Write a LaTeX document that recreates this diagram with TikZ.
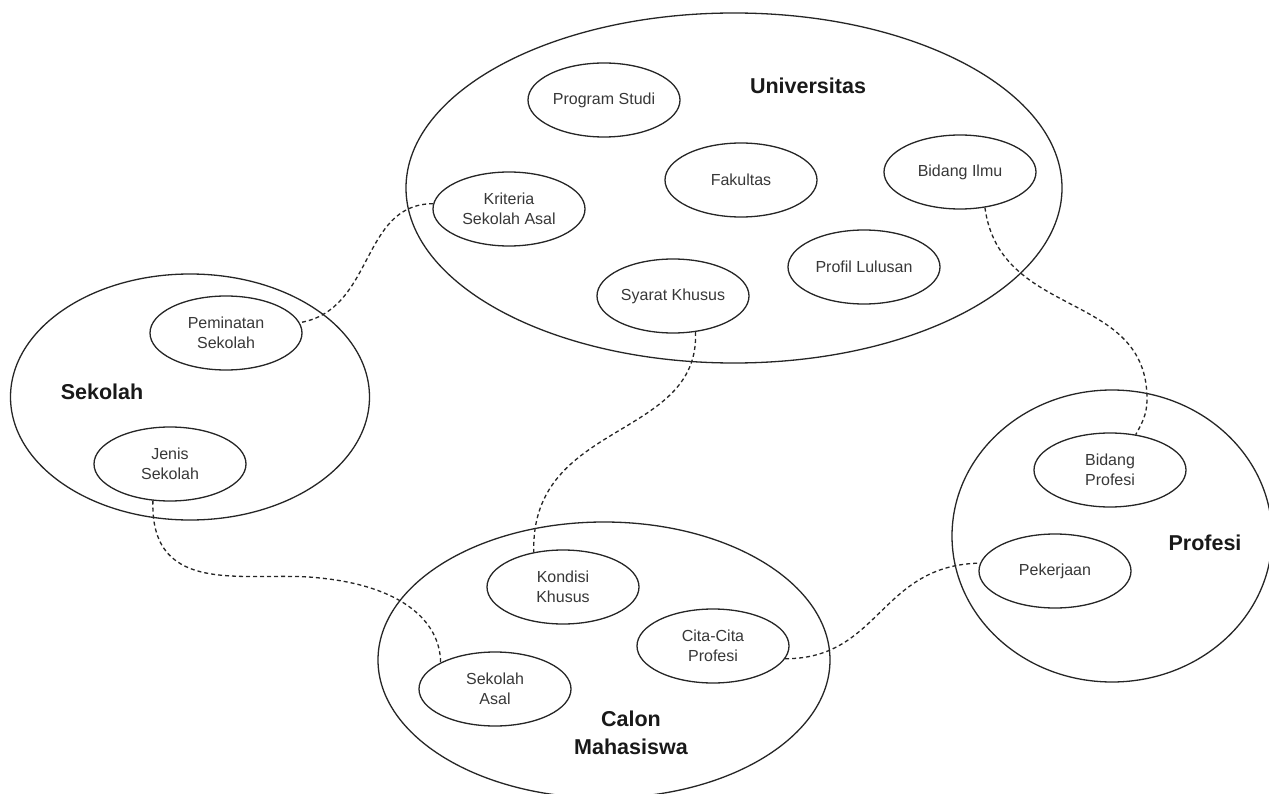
\documentclass[tikz,border=0pt]{standalone}
\usepackage{fontspec}
\setmainfont{Liberation Sans}
\usetikzlibrary{shapes.geometric}
\tikzset{
  group/.style={draw=black!85, line width=1.3pt, ellipse, inner sep=0pt},
  item/.style={draw=black!85, line width=1.3pt, ellipse, inner sep=0pt,
    minimum width=152pt, minimum height=74pt, align=center,
    text=black!78, font=\fontsize{16}{20}\selectfont},
  title/.style={align=center, font=\fontsize{21.5}{28}\selectfont\bfseries, text=black!90},
  link/.style={draw=black!85, line width=1.3pt, dash pattern=on 4pt off 3pt}
}
\begin{document}
\begin{tikzpicture}[x=1pt,y=-1pt]
\useasboundingbox (0,0) rectangle (1269,794);
\clip (0,0) rectangle (1269,794);
\fill[white] (0,0) rectangle (1269,794);

% big groups
\node[group, minimum width=656pt, minimum height=350pt] (univ) at (734,188) {};
\node[group, minimum width=359pt, minimum height=246pt] (sek) at (190,397) {};
\node[group, minimum width=452pt, minimum height=276pt] (calon) at (604,660) {};
\node[group, minimum width=320pt, minimum height=292pt] (prof) at (1112,536) {};

% titles
\node[title] (tuniv) at (808,86) {Universitas};
\node[title] (tsek) at (102,392) {Sekolah};
\node[title] (tcalon) at (631,733) {Calon\\Mahasiswa};
\node[title] (tprof) at (1205,543) {Profesi};

% items
\node[item] (ps) at (604,100) {Program Studi};
\node[item] (fk) at (741,180) {Fakultas};
\node[item] (bi) at (960,172) {Bidang Ilmu};
\node[item] (kr) at (509,209) {Kriteria\\Sekolah Asal};
\node[item] (pl) at (864,267) {Profil Lulusan};
\node[item] (sk) at (673,296) {Syarat Khusus};
\node[item] (pm) at (226,333) {Peminatan\\Sekolah};
\node[item] (js) at (170,464) {Jenis\\Sekolah};
\node[item] (kk) at (563,587) {Kondisi\\Khusus};
\node[item] (cc) at (713,646) {Cita-Cita\\Profesi};
\node[item] (sa) at (495,689) {Sekolah\\Asal};
\node[item] (bp) at (1110,470) {Bidang\\Profesi};
\node[item] (pk) at (1055,571) {Pekerjaan};

% connectors
\draw[link] (kr.176) .. controls (360,204) and (375,310) .. (pm.8);
\draw[link] (js.-115) .. controls (150,600) and (250,570) .. (320,578)
  .. controls (400,586) and (440,620) .. (sa.154);
\draw[link] (sk.-58) .. controls (700,440) and (530,420) .. (kk.130);
\draw[link] (bi.-55) .. controls (1000,320) and (1148,290) .. (1147,400)
  .. controls (1147,415) and (1141,425) .. (bp.54);
\draw[link] (cc.-10) .. controls (880,659) and (880,565) .. (pk.174);
\end{tikzpicture}
\end{document}
